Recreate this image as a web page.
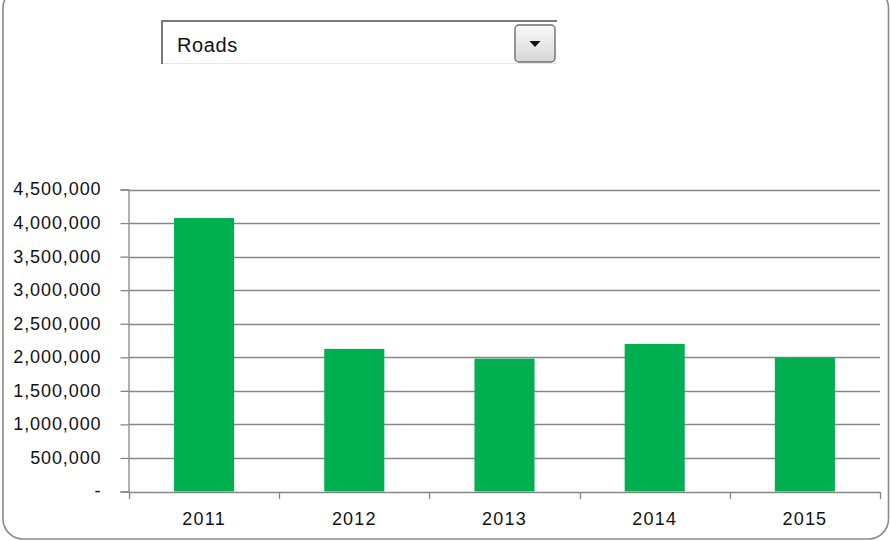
<!DOCTYPE html>
<html>
<head>
<meta charset="utf-8">
<script src="https://cdn.jsdelivr.net/npm/d3@7"></script>
<style>
  body { margin: 0; background: #fff; }
  svg { display: block; }
  .yAxis text, .xAxis text { font-family: "Liberation Sans", Arial, sans-serif; fill: #111; }
</style>
</head>
<body>
<div id="chart"></div>
<script>
// chart data
var years = ["2011", "2012", "2013", "2014", "2015"];
var roads = [4075000, 2125000, 1980000, 2200000, 1995000];
var yTicks = [0, 500000, 1000000, 1500000, 2000000, 2500000, 3000000, 3500000, 4000000, 4500000];
var selected = "Roads";

var width = 890;
var height = 541;

var plot = { left: 129, right: 880, top: 189.5, bottom: 491.5 };

var svg = d3
  .select("#chart")
  .append("svg")
  .attr("width", width)
  .attr("height", height);

// rounded chart frame
svg
  .append("rect")
  .attr("x", 3)
  .attr("y", -12)
  .attr("width", 885.5)
  .attr("height", 551)
  .attr("rx", 20)
  .attr("fill", "#fff")
  .attr("stroke", "#8a8a8a")
  .attr("stroke-width", 1.6);

// dropdown box
var dd = svg.append("g").attr("class", "dropdown");
var grad = svg.append("defs").append("linearGradient")
  .attr("id", "btnGrad").attr("x1", 0).attr("y1", 0).attr("x2", 0).attr("y2", 1);
grad.append("stop").attr("offset", "0%").attr("stop-color", "#fbfbfb");
grad.append("stop").attr("offset", "100%").attr("stop-color", "#d6d6d6");

dd.append("rect")
  .attr("x", 161).attr("y", 20).attr("width", 396).attr("height", 44)
  .attr("fill", "#fff");
dd.append("line")
  .attr("x1", 161).attr("x2", 557).attr("y1", 63.5).attr("y2", 63.5)
  .attr("stroke", "#e6e6e6").attr("stroke-width", 1);
dd.append("line")
  .attr("x1", 161).attr("x2", 557).attr("y1", 21).attr("y2", 21)
  .attr("stroke", "#7a7a7a").attr("stroke-width", 2);
dd.append("line")
  .attr("x1", 162).attr("x2", 162).attr("y1", 20).attr("y2", 64)
  .attr("stroke", "#7a7a7a").attr("stroke-width", 2);
dd.append("text")
  .attr("x", 177).attr("y", 52)
  .attr("font-family", "'Liberation Sans', Arial, sans-serif")
  .attr("font-size", 20)
  .attr("letter-spacing", 0.6)
  .attr("fill", "#111")
  .text(selected);
dd.append("rect")
  .attr("x", 515).attr("y", 25).attr("width", 40).attr("height", 37)
  .attr("rx", 4)
  .attr("fill", "url(#btnGrad)")
  .attr("stroke", "#6e6e6e").attr("stroke-width", 1.4);
dd.append("path")
  .attr("d", "M529.5,41 L540.5,41 L535,47 Z")
  .attr("fill", "#111");

// scales
var xScale = d3
  .scaleBand()
  .domain(years)
  .range([plot.left, plot.right])
  .paddingInner(0.6)
  .paddingOuter(0.3);

var yScale = d3
  .scaleLinear()
  .domain([0, 4500000])
  .range([plot.bottom, plot.top]);

// gridlines
svg
  .append("g")
  .attr("class", "grid")
  .selectAll("line")
  .data(yTicks.slice(1))
  .enter()
  .append("line")
  .attr("x1", plot.left)
  .attr("x2", plot.right)
  .attr("y1", function(d) { return Math.round(yScale(d)) + 0.5; })
  .attr("y2", function(d) { return Math.round(yScale(d)) + 0.5; })
  .attr("stroke", "#868686")
  .attr("stroke-width", 1.3);

// bars
svg
  .append("g")
  .selectAll("rect")
  .data(roads)
  .enter()
  .append("rect")
  .attr("x", function(d, i) { return xScale(years[i]); })
  .attr("y", function(d) { return yScale(d); })
  .attr("width", xScale.bandwidth())
  .attr("height", function(d) { return plot.bottom - yScale(d); })
  .attr("fill", "#00b050");

// y axis
var yAxis = d3
  .axisLeft(yScale)
  .tickValues(yTicks)
  .tickSize(8)
  .tickPadding(19)
  .tickFormat(function(d) { return d === 0 ? "-" : d3.format(",")(d); });

var yG = svg
  .append("g")
  .attr("class", "yAxis")
  .attr("transform", "translate(" + (plot.left - 0.5) + ",0)")
  .call(yAxis);
yG.select(".domain").attr("stroke", "#868686").attr("stroke-width", 1.3);
yG.selectAll(".tick line").attr("stroke", "#868686").attr("stroke-width", 1.3);
yG.selectAll("text")
  .attr("font-size", 18)
  .attr("letter-spacing", 0.9)
  .attr("dy", "0.3em");

// x axis
var xAxis = d3
  .axisBottom(xScale)
  .tickSize(0)
  .tickPadding(20);

var xG = svg
  .append("g")
  .attr("class", "xAxis")
  .attr("transform", "translate(0," + (plot.bottom + 0.5) + ")")
  .call(xAxis);
xG.select(".domain").attr("stroke", "#868686").attr("stroke-width", 1.3);
xG.selectAll("text")
  .attr("font-size", 18)
  .attr("letter-spacing", 1.2);

// category separators on x axis
var bounds = years.map(function(y) { return xScale(y) - xScale.step() * 0.3; });
bounds.push(plot.right);
xG.selectAll(".sep")
  .data(bounds)
  .enter()
  .append("line")
  .attr("class", "sep")
  .attr("x1", function(d) { return Math.round(d) + 0.5; })
  .attr("x2", function(d) { return Math.round(d) + 0.5; })
  .attr("y1", 0)
  .attr("y2", 7)
  .attr("stroke", "#868686")
  .attr("stroke-width", 1.3);
</script>
</body>
</html>
